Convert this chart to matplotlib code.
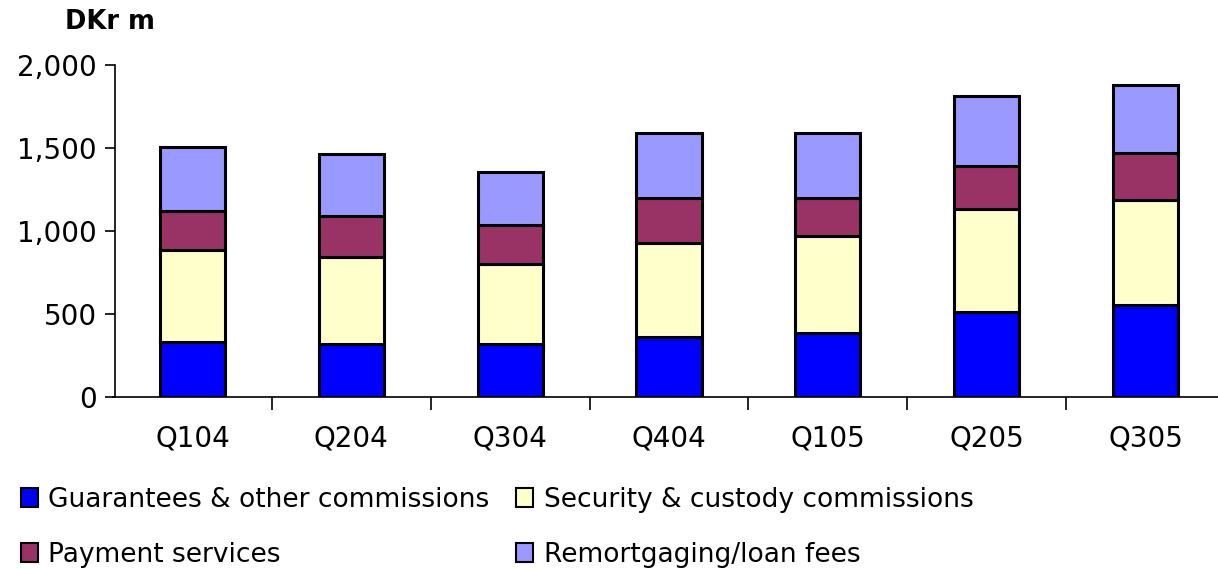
import matplotlib
matplotlib.use("Agg")
import matplotlib.pyplot as plt
import numpy as np
from matplotlib.patches import Patch

quarters = ["Q104", "Q204", "Q304", "Q404", "Q105", "Q205", "Q305"]
guarantees = [332, 318, 318, 362, 386, 509, 553]
security = [551, 523, 481, 562, 582, 621, 633]
payment = [235, 249, 235, 274, 230, 260, 279]
remortgaging = [386, 372, 318, 390, 390, 419, 410]

series_names = ["Guarantees & other commissions", "Security & custody commissions",
                "Payment services", "Remortgaging/loan fees"]
colors = ["#0000FF", "#FFFFCC", "#993366", "#9999FF"]
yticks = [0, 500, 1000, 1500, 2000]
ytick_labels = ["0", "500", "1,000", "1,500", "2,000"]

W, H = 1218, 569
fig = plt.figure(figsize=(W / 100, H / 100), dpi=100)
left_px, right_px = 113, 1225
bottom_px, top_px = 397, 64.5
ax = fig.add_axes([left_px / W, (H - bottom_px) / H, (right_px - left_px) / W, (bottom_px - top_px) / H])

x = np.arange(len(quarters))
data = [guarantees, security, payment, remortgaging]
bottom = np.zeros(len(quarters))
handles = []
for vals, c, name in zip(data, colors, series_names):
    ax.bar(x, vals, width=0.41, bottom=bottom, color=c, edgecolor="black", linewidth=2.2, zorder=3)
    bottom += np.array(vals)
    handles.append(Patch(facecolor=c, edgecolor="black", linewidth=1.5, label=name))

ax.set_xlim(-0.5, 6.5)
ax.set_ylim(0, 2000)
ax.spines["top"].set_visible(False)
ax.spines["right"].set_visible(False)
ax.spines["left"].set_bounds(0, 2000)
ax.spines["left"].set_position(("data", -0.487))
for s in ["left", "bottom"]:
    ax.spines[s].set_linewidth(1.2)

ax.set_yticks(yticks)
ax.set_yticklabels(ytick_labels, fontsize=20)
ax.tick_params(axis="y", direction="out", length=7, width=1.2, pad=6)

ax.set_xticks(x)
ax.set_xticklabels(quarters, fontsize=20)
ax.tick_params(axis="x", which="major", length=0, pad=20)
ax.set_xticks(np.arange(-0.5, 7.0, 1.0)[1:], minor=True)
ax.tick_params(axis="x", which="minor", direction="out", length=9, width=1.2)

fig.text(65 / W, 1 - 22 / H, "DKr m", fontsize=18.5, fontweight="bold", va="center", ha="left")

order = [0, 2, 1, 3]
leg = fig.legend([handles[i] for i in order], [series_names[i] for i in order],
                 ncol=2, loc="upper left", bbox_to_anchor=(10 / W, 1 - 476 / H),
                 frameon=False, fontsize=19, handlelength=0.65, handleheight=0.7,
                 handletextpad=0.4, columnspacing=1.0, labelspacing=1.1, borderaxespad=0)

fig.savefig("out.png", dpi=100)
